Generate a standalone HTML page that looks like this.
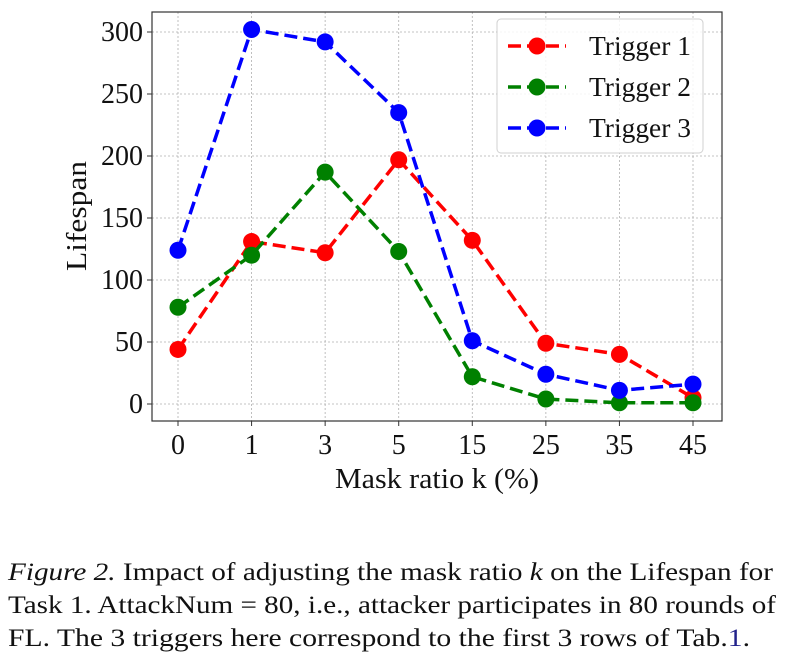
<!DOCTYPE html>
<html><head><meta charset="utf-8"><style>
body{margin:0;background:#fff;width:785px;height:667px;overflow:hidden;font-family:"Liberation Serif",serif}
</style></head><body>
<svg id="chart" width="785" height="667" style="position:absolute;left:0;top:0" font-family="Liberation Serif, serif">
<g font-size="25" fill="#111">
<text x="8" y="580" textLength="765" lengthAdjust="spacingAndGlyphs"><tspan font-style="italic">Figure 2.</tspan> Impact of adjusting the mask ratio <tspan font-style="italic">k</tspan> on the Lifespan for</text>
<text x="8" y="613" textLength="768" lengthAdjust="spacingAndGlyphs">Task 1. AttackNum = 80, i.e., attacker participates in 80 rounds of</text>
<text x="8" y="646" textLength="742" lengthAdjust="spacingAndGlyphs">FL. The 3 triggers here correspond to the first 3 rows of Tab.<tspan fill="#22228b">1</tspan>.</text>
</g>
</svg>
<script>
const categories=["0","1","3","5","15","25","35","45"];
const trigger1=[44,131,122,197,132,49,40,5];
const trigger2=[78,120,187,123,22,4,1,1];
const trigger3=[124,302,292,235,51,24,11,16];
const yTicks=[0,50,100,150,200,250,300];
const seriesNames=["Trigger 1","Trigger 2","Trigger 3"];
const seriesColors=["#ff0000","#008000","#0000ff"];
const NS="http://www.w3.org/2000/svg";
const svg=document.getElementById('chart');
const L=152,R=722,T=12,B=421;
const x0=178,dx=(693-178)/7;
function xs(i){return x0+i*dx;}
function ys(v){return 404-v*(404-32)/300;}
function mk(tag,attrs,parent){const e=document.createElementNS(NS,tag);for(const k in attrs)e.setAttribute(k,attrs[k]);(parent||svg).appendChild(e);return e;}
categories.forEach((c,i)=>{
 const g=mk('line',{x1:xs(i),x2:xs(i),y1:T,y2:B,stroke:'#b0b0b0','stroke-width':0.8,'stroke-dasharray':'2,2'});
 
 
 const tk=mk('line',{x1:xs(i),x2:xs(i),y1:B,y2:B+5,stroke:'#333'});
 
 
 const t=mk('text',{x:xs(i),y:B+33,'text-anchor':'middle','font-size':28,fill:'#111'});
 t.textContent=c;
 
 
});
yTicks.forEach(v=>{
 const g=mk('line',{x1:L,x2:R,y1:ys(v),y2:ys(v),stroke:'#b0b0b0','stroke-width':0.8,'stroke-dasharray':'2,2'});
 
 
 const tk=mk('line',{x1:L-5,x2:L,y1:ys(v),y2:ys(v),stroke:'#333'});
 
 
 const t=mk('text',{x:L-9,y:ys(v)+9,'text-anchor':'end','font-size':28,fill:'#111'});
 t.textContent=v;
 
 
});
const fr=mk('rect',{x:L,y:T,width:R-L,height:B-T,fill:'none',stroke:'#333','stroke-width':1.2});


const yl=mk('text',{x:0,y:0,transform:'translate(86,216) rotate(-90)','text-anchor':'middle','font-size':29,fill:'#111',textLength:110,lengthAdjust:'spacingAndGlyphs'});
yl.textContent='Lifespan';


const xl=mk('text',{x:437,y:488,'text-anchor':'middle','font-size':29,fill:'#111',textLength:204,lengthAdjust:'spacingAndGlyphs'});
xl.textContent='Mask ratio k (%)';


[trigger1,trigger2,trigger3].forEach((s,si)=>{
 const col=seriesColors[si];
 const pl=mk('polyline',{points:s.map((v,i)=>xs(i)+','+ys(v)).join(' '),fill:'none',stroke:col,'stroke-width':3.5,'stroke-dasharray':'13,6'});
 
 
 s.forEach((v,i)=>{
  const c=mk('circle',{cx:xs(i),cy:ys(v),r:8.5,fill:col});
  
  
 });
});
const lg=mk('g',{});


mk('rect',{x:497,y:19,width:206,height:134,rx:4,fill:'#fff','fill-opacity':0.85,stroke:'#d0d0d0'},lg);
seriesNames.forEach((n,i)=>{
 const y=46+i*41;
 const e=mk('g',{},lg);
 
 
 mk('line',{x1:508,x2:566,y1:y,y2:y,stroke:seriesColors[i],'stroke-width':3.5,'stroke-dasharray':'13,6'},e);
 mk('circle',{cx:537,cy:y,r:8.5,fill:seriesColors[i]},e);
 const t=mk('text',{x:589,y:y+9,'font-size':27,fill:'#111',textLength:102,lengthAdjust:'spacingAndGlyphs'},e);
 t.textContent=n;
});
</script>
</body></html>
